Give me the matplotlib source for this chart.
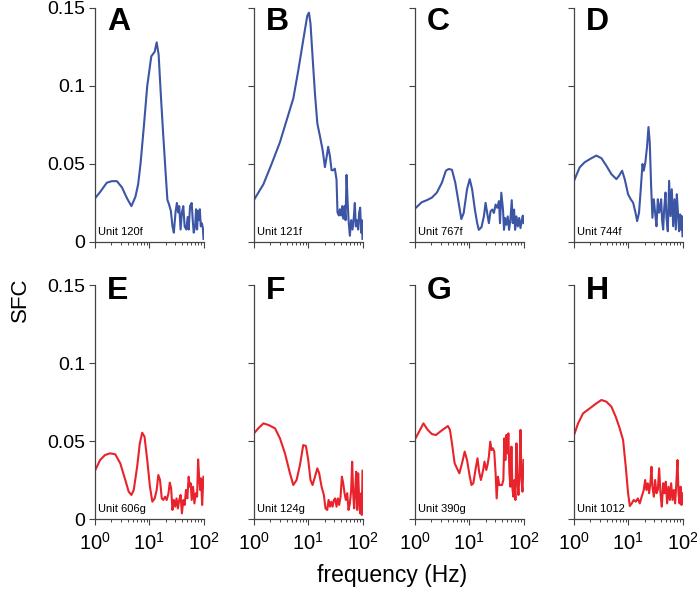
import numpy as np
from matplotlib import pyplot as plt

plt.rcParams['font.family'] = ['Liberation Sans', 'DejaVu Sans']

# panel letters, unit names and colours
letters = ["A", "B", "C", "D", "E", "F", "G", "H"]
units = ["Unit 120f", "Unit 121f", "Unit 767f", "Unit 744f",
         "Unit 606g", "Unit 124g", "Unit 390g", "Unit 1012"]

# --- top row (blue) ---
freq_a = [1.0, 1.24, 1.65, 2.04, 2.53, 3.14, 3.89, 4.69, 5.56, 6.24, 6.9, 7.95, 9.18, 10.9, 12.6,
          13.7, 14.9, 16.3, 18.0, 19.9, 21.6, 23.2, 25.0, 26.8, 28.4, 30.5, 32.3, 34.2, 35.7, 37.8,
          40.0, 42.4, 44.9, 48.2, 51.1, 53.3, 56.5, 60.6, 63.3, 66.1, 70.0, 73.0, 76.2, 79.6, 83.0,
          85.5, 89.2, 93.2, 97.3, 100]
sfc_a = [0.028, 0.032, 0.038, 0.039, 0.039, 0.035, 0.028, 0.023, 0.029, 0.037, 0.050, 0.074, 0.100,
         0.119, 0.122, 0.128, 0.120, 0.095, 0.070, 0.046, 0.027, 0.024, 0.020, 0.010, 0.006, 0.019,
         0.025, 0.019, 0.023, 0.008, 0.019, 0.023, 0.010, 0.008, 0.016, 0.008, 0.023, 0.025, 0.014,
         0.006, 0.010, 0.021, 0.008, 0.020, 0.014, 0.021, 0.010, 0.012, 0.009, 0.002]

freq_b = [1.0, 1.49, 2.11, 3.01, 3.99, 5.3, 6.55, 7.54, 8.68, 9.59, 10.3, 11.0, 12.0, 13.3, 14.7,
          16.4, 18.4, 20.3, 21.7, 23.3, 25.1, 26.9, 28.8, 30.9, 33.2, 34.6, 36.7, 38.3, 40.5, 42.3,
          44.1, 46.7, 48.7, 50.8, 53.0, 55.3, 58.5, 61.8, 65.5, 69.2, 72.2, 75.3, 78.7, 83.2, 86.9,
          90.6, 94.5, 97.2, 100]
sfc_b = [0.027, 0.037, 0.050, 0.064, 0.078, 0.092, 0.110, 0.123, 0.136, 0.145, 0.147, 0.140, 0.119,
         0.095, 0.076, 0.068, 0.059, 0.048, 0.054, 0.061, 0.055, 0.046, 0.046, 0.047, 0.040, 0.019,
         0.017, 0.021, 0.017, 0.023, 0.015, 0.023, 0.014, 0.043, 0.027, 0.014, 0.004, 0.014, 0.008,
         0.016, 0.025, 0.010, 0.014, 0.008, 0.019, 0.022, 0.006, 0.014, 0.002]

freq_c = [1.0, 1.33, 1.65, 2.04, 2.52, 3.13, 3.71, 4.16, 4.8, 5.53, 6.38, 7.15, 7.9, 9.1, 10.2,
          11.3, 12.7, 14.0, 15.0, 16.8, 18.6, 20.0, 21.4, 23.0, 24.7, 26.6, 28.5, 30.6, 32.9, 35.3,
          36.9, 39.0, 41.9, 43.7, 45.6, 48.3, 51.2, 54.2, 57.4, 60.7, 63.4, 67.1, 70.0, 74.1, 78.5,
          83.1, 87.9, 93.1, 97.2, 100]
sfc_c = [0.0214, 0.0255, 0.0268, 0.0284, 0.0316, 0.038, 0.0457, 0.0468, 0.0463, 0.038, 0.0251,
         0.0147, 0.0186, 0.0338, 0.0403, 0.0338, 0.0208, 0.0121, 0.0078, 0.0095, 0.0164, 0.0251,
         0.0186, 0.0121, 0.0197, 0.0208, 0.0186, 0.024, 0.0219, 0.0262, 0.0121, 0.0316, 0.0208,
         0.0078, 0.0154, 0.011, 0.0164, 0.0078, 0.0143, 0.0268, 0.0121, 0.0208, 0.0078, 0.0164,
         0.010, 0.0154, 0.0089, 0.0143, 0.0169, 0.0121]

freq_d = [1.0, 1.27, 1.57, 2.09, 2.58, 3.2, 3.95, 4.89, 6.05, 6.78, 7.7, 8.61, 9.93, 11.1, 12.3,
          13.6, 14.6, 15.8, 17.0, 18.3, 19.3, 20.7, 22.3, 23.6, 24.9, 26.4, 27.9, 29.6, 31.3, 33.1,
          35.1, 37.1, 38.7, 40.4, 42.2, 44.0, 45.9, 48.6, 50.7, 53.6, 56.7, 60.0, 63.5, 67.2, 71.2,
          75.3, 78.6, 83.2, 86.7, 90.5, 94.4, 97.2, 100]
sfc_d = [0.0392, 0.0478, 0.0511, 0.0537, 0.0554, 0.0537, 0.0489, 0.0435, 0.0403, 0.0425, 0.0457,
         0.0403, 0.0306, 0.0274, 0.0252, 0.0188, 0.0134, 0.0188, 0.0338, 0.050, 0.0457, 0.0511,
         0.0619, 0.0737, 0.064, 0.036, 0.0155, 0.0274, 0.0188, 0.0101, 0.0274, 0.0188, 0.022,
         0.0274, 0.0134, 0.008, 0.0209, 0.0317, 0.0155, 0.0069, 0.0392, 0.0166, 0.0338, 0.0101,
         0.0274, 0.008, 0.0306, 0.0166, 0.0069, 0.0177, 0.008, 0.0166, 0.0037]

# --- bottom row (red) ---
freq_e = [1.0, 1.24, 1.53, 1.9, 2.36, 2.92, 3.62, 4.18, 4.69, 5.18, 5.98, 6.7, 7.41, 8.18, 9.18,
          10.3, 11.4, 12.6, 13.7, 14.7, 15.8, 17.0, 18.2, 19.6, 21.0, 22.6, 23.9, 25.3, 26.8, 28.4,
          30.1, 31.8, 33.7, 35.7, 37.8, 40.0, 42.4, 44.9, 47.5, 50.3, 53.3, 55.6, 58.1, 60.6, 64.2,
          68.0, 72.0, 76.2, 79.6, 83.0, 86.7, 90.5, 94.4, 97.2, 100]
sfc_e = [0.031, 0.0378, 0.041, 0.0421, 0.0415, 0.0357, 0.025, 0.0175, 0.0154, 0.0186, 0.0335,
         0.0485, 0.0553, 0.0528, 0.0378, 0.0207, 0.0111, 0.0132, 0.0186, 0.0282, 0.025, 0.0132,
         0.0122, 0.0143, 0.0122, 0.0165, 0.0233, 0.0197, 0.0058, 0.0122, 0.0079, 0.0132, 0.0068,
         0.0122, 0.0154, 0.0036, 0.0122, 0.009, 0.0186, 0.0132, 0.0271, 0.0207, 0.0229, 0.0122,
         0.0207, 0.010, 0.0165, 0.0143, 0.0382, 0.0271, 0.0186, 0.0261, 0.009, 0.0186, 0.0271]

freq_f = [1.0, 1.2, 1.49, 1.84, 2.44, 3.01, 3.72, 4.6, 5.3, 6.1, 7.03, 8.09, 9.06, 10.0, 11.0,
          12.0, 13.3, 14.7, 15.9, 17.6, 19.4, 20.8, 22.4, 23.7, 25.1, 26.5, 28.1, 29.7, 31.4, 33.2,
          35.2, 37.2, 39.4, 41.7, 44.1, 46.7, 49.3, 52.2, 55.3, 58.5, 61.8, 64.5, 67.3, 70.3, 73.3,
          76.4, 79.8, 83.2, 86.9, 90.6, 94.5, 97.2, 100]
sfc_f = [0.0549, 0.0581, 0.0613, 0.0603, 0.0581, 0.0517, 0.0421, 0.0293, 0.0218, 0.025, 0.0346,
         0.0474, 0.0468, 0.0378, 0.025, 0.0218, 0.0271, 0.0325, 0.0293, 0.0207, 0.0154, 0.0068,
         0.0058, 0.0122, 0.0079, 0.0111, 0.0079, 0.0122, 0.0132, 0.0079, 0.0132, 0.009, 0.0143,
         0.0271, 0.0229, 0.0165, 0.0122, 0.0165, 0.0058, 0.010, 0.0186, 0.0367, 0.0165, 0.0068,
         0.0186, 0.0303, 0.0058, 0.0293, 0.0122, 0.0036, 0.0165, 0.0026, 0.031]

freq_g = [1.0, 1.19, 1.43, 1.72, 2.04, 2.42, 2.91, 3.51, 4.04, 4.41, 4.8, 5.38, 5.94, 6.57, 7.36,
          8.25, 9.11, 10.1, 11.0, 11.9, 13.0, 14.2, 15.2, 16.4, 17.8, 19.1, 20.6, 21.7, 23.0, 24.4,
          25.8, 27.3, 28.9, 30.6, 32.0, 33.8, 35.8, 37.9, 40.2, 42.5, 44.4, 46.3, 48.3, 50.5, 52.6,
          55.0, 57.4, 59.9, 62.5, 65.2, 68.1, 71.0, 74.1, 77.4, 80.7, 84.3, 88.0, 91.8, 95.8, 100]
sfc_g = [0.0511, 0.056, 0.0613, 0.0571, 0.0545, 0.0538, 0.056, 0.0581, 0.0596, 0.0571, 0.0485,
         0.0357, 0.0325, 0.0293, 0.0357, 0.0432, 0.0378, 0.0282, 0.0218, 0.0229, 0.0314, 0.0389,
         0.0303, 0.025, 0.0303, 0.0368, 0.0314, 0.0346, 0.040, 0.0496, 0.0442, 0.0453, 0.0432,
         0.0293, 0.0132, 0.0271, 0.0218, 0.0218, 0.0218, 0.025, 0.0517, 0.0378, 0.0539, 0.0421,
         0.0549, 0.0293, 0.0207, 0.0464, 0.0197, 0.0143, 0.025, 0.0122, 0.0485, 0.025, 0.0154,
         0.0293, 0.0571, 0.025, 0.0175, 0.0378]

freq_h = [1.0, 1.19, 1.47, 1.95, 2.58, 3.2, 3.95, 4.89, 5.87, 6.96, 8.03, 9.0, 9.93, 10.7, 11.6,
          12.6, 13.8, 15.0, 16.3, 17.7, 19.3, 20.5, 21.6, 22.9, 24.3, 25.7, 26.8, 27.9, 29.6, 31.3,
          33.1, 35.1, 37.1, 39.3, 41.5, 44.0, 46.5, 49.2, 52.1, 55.2, 58.4, 61.8, 65.4, 69.2, 73.2,
          77.5, 80.9, 84.4, 88.1, 91.9, 95.9, 100]
sfc_h = [0.0538, 0.0613, 0.0677, 0.0709, 0.0741, 0.0763, 0.0752, 0.072, 0.0656, 0.0581, 0.0506,
         0.0335, 0.0165, 0.0083, 0.010, 0.0122, 0.0111, 0.0132, 0.010, 0.0143, 0.0186, 0.025,
         0.0186, 0.0229, 0.0165, 0.0239, 0.0335, 0.0207, 0.0143, 0.025, 0.0165, 0.0186, 0.0325,
         0.0165, 0.0079, 0.0229, 0.0165, 0.0239, 0.010, 0.0207, 0.0122, 0.0229, 0.0122, 0.0186,
         0.010, 0.025, 0.0378, 0.0165, 0.010, 0.0207, 0.009, 0.0165]

freqs = [freq_a, freq_b, freq_c, freq_d, freq_e, freq_f, freq_g, freq_h]
sfcs = [sfc_a, sfc_b, sfc_c, sfc_d, sfc_e, sfc_f, sfc_g, sfc_h]

blue = "#3c55a5"
red = "#e8232b"
spine_col = "#444444"

W, H = 697, 590
fig = plt.figure(figsize=(W / 100, H / 100), dpi=100)

col_left = [95, 254, 415, 574]
ax_w = 108.5
row_top = [8, 285]
ax_h = 234
letter_y = [1.005, 1.04]

for i in range(8):
    r, c = divmod(i, 4)
    x0 = col_left[c] / W
    y0 = 1 - (row_top[r] + ax_h) / H
    ax = fig.add_axes([x0, y0, ax_w / W, ax_h / H])

    ax.plot(freqs[i], sfcs[i], color=blue if r == 0 else red, lw=1.5)
    ax.set_xscale("log")
    ax.set_xlim(1, 100)
    ax.set_ylim(0, 0.15)
    ax.set_yticks([0, 0.05, 0.1, 0.15])
    ax.set_yticklabels(["0", "0.05", "0.1", "0.15"] if c == 0 else [])
    if r == 0:
        ax.set_xticklabels([])
    ax.spines["top"].set_visible(False)
    ax.spines["right"].set_visible(False)
    for s in ["left", "bottom"]:
        ax.spines[s].set_color(spine_col)
        ax.spines[s].set_linewidth(0.9)
    ax.tick_params(axis="y", direction="out", length=4, width=0.8, color=spine_col,
                   labelsize=14, pad=3)
    ax.tick_params(axis="x", which="major", direction="out", length=4, width=0.8,
                   color=spine_col, labelsize=14.5, pad=5)
    ax.tick_params(axis="x", which="minor", direction="out", length=2.5, width=0.7,
                   color=spine_col)
    ax.patch.set_alpha(0)

    ax.text(0.11, letter_y[r], letters[i], transform=ax.transAxes, fontsize=23,
            fontweight="bold", va="top", ha="left")
    ax.text(0.025, 0.02, units[i], transform=ax.transAxes, fontsize=8,
            va="bottom", ha="left")

fig.text(0.562, 0.024, "frequency (Hz)", ha="center", va="center", fontsize=16.5)
fig.text(0.03, 0.492, "SFC", ha="center", va="center", rotation=90, fontsize=16)

fig.savefig("out.png", dpi=100)
